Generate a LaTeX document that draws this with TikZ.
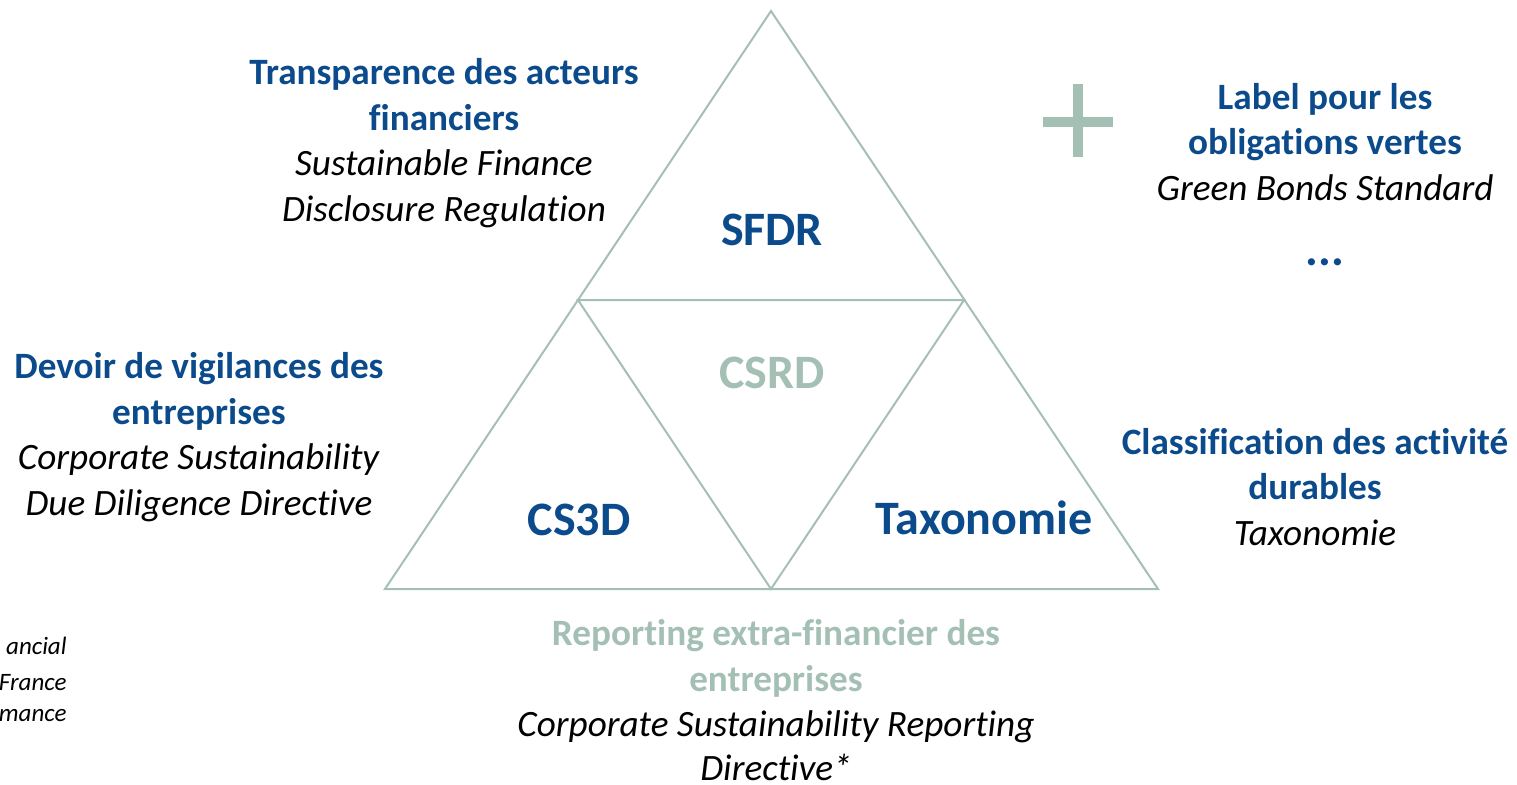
\documentclass[tikz,border=0pt]{standalone}
\usepackage{fontspec}
\setmainfont[Ligatures={NoCommon}]{Carlito}
\definecolor{eublue}{HTML}{0B4A8B}
\definecolor{sage}{HTML}{A4BFB4}
\begin{document}
\begin{tikzpicture}[x=0.5pt,y=-0.5pt,
  tri/.style={draw=sage,line width=1pt,line join=miter},
  body/.style={align=center,inner sep=0pt,font=\fontsize{18.6}{22.75}\selectfont},
  big/.style={inner sep=0pt,font=\fontsize{24}{28}\selectfont\bfseries,text=eublue},
  small/.style={anchor=east,inner sep=0pt,font=\fontsize{12.5}{14}\selectfont\itshape}]
\useasboundingbox (0,0) rectangle (1517,784);
% triangle corners
\coordinate (A) at (771,11);
\coordinate (L) at (385,589);
\coordinate (R) at (1158,589);
\coordinate (ML) at (578,300);
\coordinate (MR) at (964,300);
\coordinate (MB) at (771,589);
\draw[tri] (A) -- (R) -- (L) -- cycle;
\draw[tri] (ML) -- (MR) -- (MB) -- cycle;
% labels in triangle
\node[big] (sfdr) at (772,230) {SFDR};
\node[big,text=sage] (csrd) at (772,373) {CSRD};
\node[big] (cs3d) at (579,520) {CS3D};
\node[big] (taxo) at (984,518) {Taxonomie};
% outer texts
\node[body] (t1) at (444,143) {\textbf{\color{eublue}Transparence des acteurs}\\\textbf{\color{eublue}financiers}\\\textit{Sustainable Finance}\\\textit{Disclosure Regulation}};
\node[body] (t2) at (199,437) {\textbf{\color{eublue}Devoir de vigilances des}\\\textbf{\color{eublue}entreprises}\\\textit{Corporate Sustainability}\\\textit{Due Diligence Directive}};
\node[body] (t3) at (1325,142) {\textbf{\color{eublue}Label pour les}\\\textbf{\color{eublue}obligations vertes}\\\textit{Green Bonds Standard}};
\node[body,font=\fontsize{24}{28}\selectfont\bfseries,text=eublue] (dots) at (1325,262) {...};
\node[body] (t4) at (1315,487) {\textbf{\color{eublue}Classification des activité}\\\textbf{\color{eublue}durables}\\\textit{Taxonomie}};
\node[body] (t5) at (776,700) {\textbf{\color{sage}Reporting extra-financier des}\\\textbf{\color{sage}entreprises}\\\textit{Corporate Sustainability Reporting}\\[-1pt]\textit{Directive*}};
% plus sign
\fill[sage] (1043,117) rectangle (1113,127);
\fill[sage] (1073,84) rectangle (1083,157);
% cut-off text at left
\node[small] (s1) at (67,646) {ancial};
\node[small] (s2) at (67,683) {France};
\node[small] (s3) at (67,716) {mance};
\end{tikzpicture}
\end{document}
